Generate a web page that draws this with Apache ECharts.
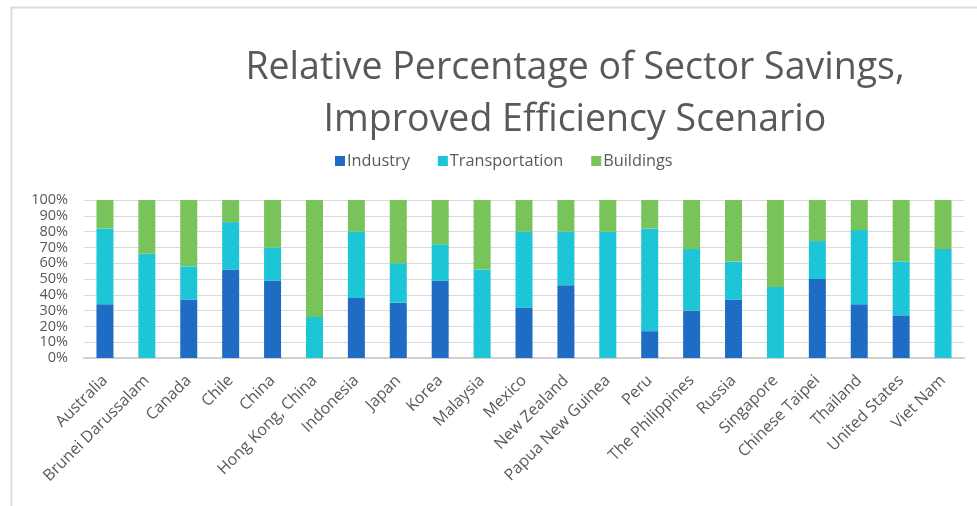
<!DOCTYPE html>
<html>
<head>
<meta charset="utf-8">
<script src="https://cdn.jsdelivr.net/npm/echarts@6/dist/echarts.min.js"></script>
<style>
  html, body { margin: 0; padding: 0; background: #ffffff; }
  #chart { width: 977px; height: 506px; }
</style>
</head>
<body>
<div id="chart"></div>
<script>
// Economies shown along the x axis
const economies = [
  'Australia', 'Brunei Darussalam', 'Canada', 'Chile', 'China', 'Hong Kong, China',
  'Indonesia', 'Japan', 'Korea', 'Malaysia', 'Mexico', 'New Zealand',
  'Papua New Guinea', 'Peru', 'The Philippines', 'Russia', 'Singapore',
  'Chinese Taipei', 'Thailand', 'United States', 'Viet Nam'
];

// Share of savings by sector (percent of each economy's total)
const industry       = [34, 0, 37, 56, 49, 0, 38, 35, 49, 0, 32, 46, 0, 17, 30, 37, 0, 50, 34, 27, 0];
const transportation = [48, 66, 21, 30, 21, 26, 42, 25, 23, 56, 48, 34, 80, 65, 39, 24, 45, 24, 47, 34, 69];
const buildings      = [18, 34, 42, 14, 30, 74, 20, 40, 28, 44, 20, 20, 20, 18, 31, 39, 55, 26, 19, 39, 31];

// Value axis ticks
const yTicks = [0, 10, 20, 30, 40, 50, 60, 70, 80, 90, 100];

const textColor = '#595959';
const fontFamily = '"Open Sans", Lato, sans-serif';

const chart = echarts.init(document.getElementById('chart'), null, { renderer: 'canvas' });

function barSeries(name, data, color) {
  return {
    name: name,
    type: 'bar',
    stack: 'share',
    data: data,
    barWidth: 17,
    itemStyle: { color: color },
    emphasis: { disabled: true }
  };
}

chart.setOption({
  animation: false,
  backgroundColor: '#ffffff',
  graphic: [{
    type: 'rect',
    left: 9, top: 5,
    shape: { width: 980, height: 520 },
    style: { fill: 'none', stroke: '#dcdcdc', lineWidth: 2 },
    silent: true
  }],
  title: {
    text: 'Relative Percentage of Sector Savings,\nImproved Efficiency Scenario',
    left: 570,
    textAlign: 'center',
    top: 37,
    textStyle: {
      color: textColor,
      fontFamily: fontFamily,
      fontWeight: 'normal',
      fontSize: 37.5,
      lineHeight: 52
    }
  },
  legend: {
    top: 148,
    left: 330,
    itemWidth: 10,
    itemHeight: 10,
    itemGap: 28,
    icon: 'rect',
    textStyle: { color: textColor, fontFamily: fontFamily, fontSize: 16.3, padding: [0, 0, 0, -3] },
    data: ['Industry', 'Transportation', 'Buildings']
  },
  grid: { left: 84, right: 13, top: 200, bottom: 148, containLabel: false },
  xAxis: {
    type: 'category',
    data: economies,
    axisLine: { lineStyle: { color: '#d0d0d0', width: 2 } },
    axisTick: { show: false },
    axisLabel: {
      rotate: 45,
      interval: 0,
      margin: 20,
      color: textColor,
      fontFamily: fontFamily,
      fontSize: 16
    }
  },
  yAxis: {
    type: 'value',
    min: yTicks[0],
    max: yTicks[yTicks.length - 1],
    interval: yTicks[1] - yTicks[0],
    axisLine: { show: false },
    axisTick: { show: false },
    splitLine: { lineStyle: { color: '#dadada', width: 1 } },
    axisLabel: {
      formatter: '{value}%',
      margin: 16,
      color: textColor,
      fontFamily: fontFamily,
      fontSize: 14.5
    }
  },
  series: [
    barSeries('Industry', industry, '#1f6cc4'),
    barSeries('Transportation', transportation, '#1cc6d6'),
    barSeries('Buildings', buildings, '#78c35a')
  ]
});
</script>
</body>
</html>
